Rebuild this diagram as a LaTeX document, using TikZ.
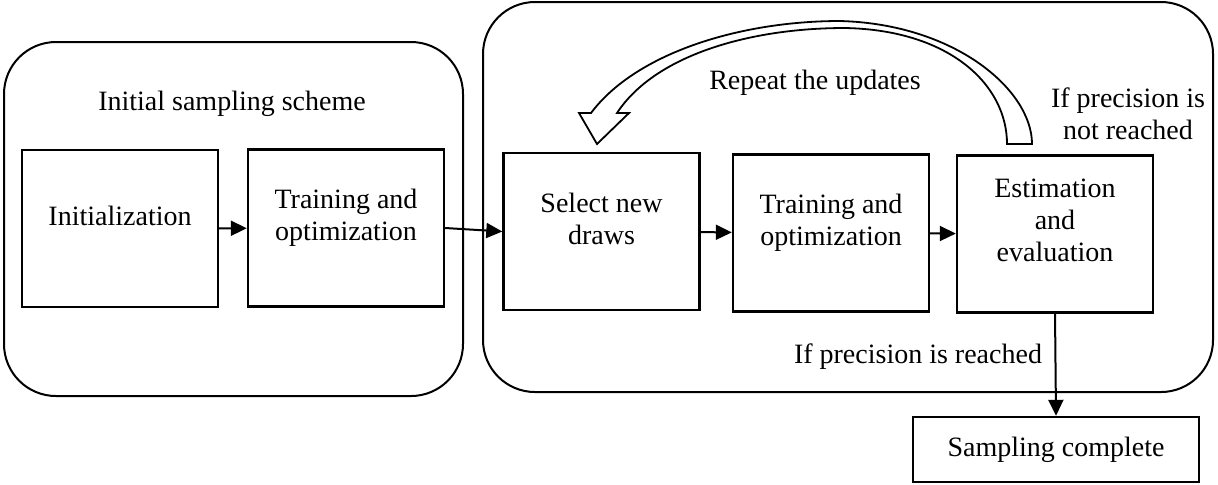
\documentclass[tikz,border=0pt]{standalone}
\usepackage{fontspec}
\setmainfont{Liberation Serif}
\usetikzlibrary{arrows.meta,positioning,calc}

\begin{document}
\begin{tikzpicture}[x=0.5pt,y=-0.5pt,
    font=\fontsize{14}{16}\selectfont,
    stage/.style={draw,line width=1.2pt,inner sep=0pt,minimum width=98pt,minimum height=78.5pt},
    phase/.style={draw,line width=1pt,rounded corners=26pt},
    txt/.style={align=center,inner sep=0pt},
    arr/.style={line width=1pt,-{Triangle[length=8pt,width=7.5pt]}},
    hollow/.style={draw,fill=white,line width=0.9pt,line join=miter}]
    \useasboundingbox (0,0) rectangle (1218,484);
    % the two phases
    \draw[phase] (4,42) rectangle (463,396);
    \draw[phase] (483,2) rectangle (1213,392);
    \node[txt,anchor=base] (initial) at (232,110) {Initial sampling scheme};
    % steps
    \node[stage] (init) at (120,228.5) {};
    \node[stage] (train1) at (346,228) {};
    \node[stage] (select) at (601.5,231.5) {};
    \node[stage] (train2) at (831,233) {};
    \node[stage] (estim) at (1055,234) {};
    \node[stage,minimum width=143pt,minimum height=32.5pt] (done) at (1056,449.5) {Sampling complete};
    \node[txt] (initlbl) at (120,215.5) {Initialization};
    \node[txt] (train1lbl) at (346,217.5) {Training and\\optimization};
    \node[txt] (selectlbl) at (601.5,219) {Select new\\draws};
    \node[txt] (train2lbl) at (831,223) {Training and\\optimization};
    \node[txt] (estimlbl) at (1055,220.5) {Estimation\\and\\evaluation};
    \draw[arr] (init) -- (train1);
    \draw[arr] (train1.east) -- (select.west);
    \draw[arr] (select) -- (train2);
    \draw[arr] (train2) -- (estim);
    \draw[arr] (estim.south) -- (done.north);
    % loop back
    \coordinate (tail) at (1007,144);
    \coordinate (tip) at (597,144);
    \draw[hollow] (1032,144) .. controls (1032,90) and (955,24) .. (840,21)
      .. controls (740,21) and (636,53) .. (591,113) -- (579,113) -- (tip) -- (629,113) -- (617,113)
      .. controls (655,55) and (750,28) .. (845,28) .. controls (950,30) and (1007,85) .. (tail) -- cycle;
    \node[txt,anchor=base] (repeat) at (815,89) {Repeat the updates};
    \node[txt] (notreached) at (1128,113.5) {If precision is\\not reached};
    \node[txt,anchor=base] (reached) at (918,363) {If precision is reached};
\end{tikzpicture}
\end{document}
